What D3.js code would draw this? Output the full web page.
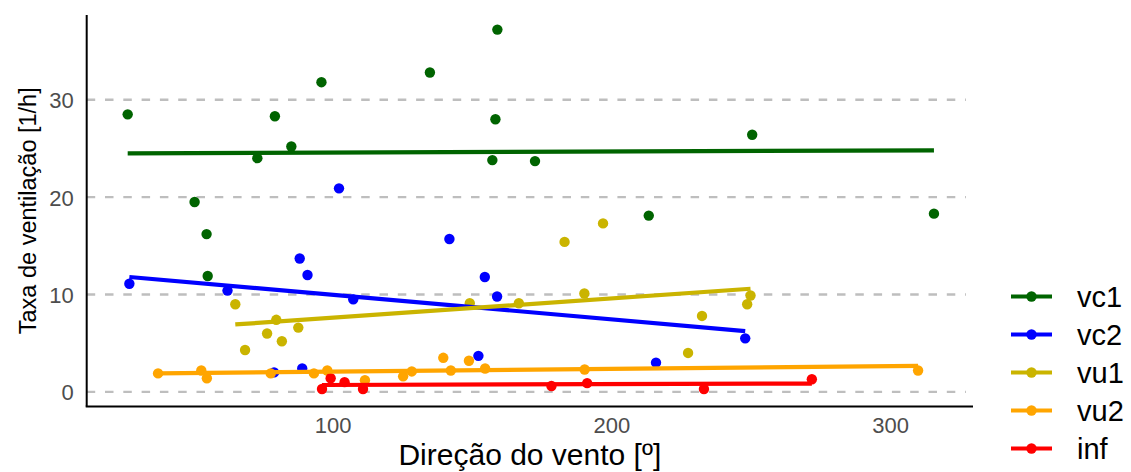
<!DOCTYPE html>
<html><head><meta charset="utf-8">
<script src="https://cdn.jsdelivr.net/npm/d3@7"></script>
<style>
html,body{margin:0;padding:0;background:#fff;}
text{font-family:"Liberation Sans",Arial,Helvetica,sans-serif;}
</style></head>
<body>
<svg id="chart" width="1131" height="472"></svg>
<script>
// ---- data ----
const seriesNames = ["vc1", "vc2", "vu1", "vu2", "inf"];
const seriesColors = ["#006400", "#0000FF", "#CAB400", "#FFA500", "#FF0000"];

const vc1X = [26.5, 50.5, 54.8, 55.2, 73.0, 79.3, 85.2, 96.0, 134.9, 157.3, 158.4, 159.1, 172.6, 213.4, 250.5, 315.7];
const vc1Y = [28.5, 19.5, 16.2, 11.9, 24.0, 28.3, 25.2, 31.8, 32.8, 23.8, 28.0, 37.2, 23.7, 18.1, 26.4, 18.3];

const vc2X = [27.1, 62.3, 79.0, 88.2, 89.1, 91.0, 102.3, 107.4, 141.9, 152.3, 154.6, 159.0, 216.0, 248.0];
const vc2Y = [11.1, 10.4, 2.0, 13.7, 2.4, 12.0, 20.9, 9.5, 15.7, 3.7, 11.8, 9.8, 3.0, 5.5];

const vu1X = [65.1, 68.6, 76.5, 79.8, 81.8, 87.7, 149.2, 166.8, 183.2, 190.3, 197.0, 227.5, 232.5, 248.7, 249.9];
const vu1Y = [9.0, 4.3, 6.0, 7.4, 5.2, 6.6, 9.1, 9.1, 15.4, 10.1, 17.3, 4.0, 7.8, 9.0, 9.9];

const vu2X = [37.4, 52.9, 54.9, 77.8, 93.3, 98.1, 111.6, 125.3, 128.4, 139.7, 142.4, 148.9, 154.7, 190.4, 310.0];
const vu2Y = [1.9, 2.2, 1.4, 1.9, 1.9, 2.2, 1.2, 1.6, 2.1, 3.5, 2.2, 3.2, 2.4, 2.3, 2.2];

const infX = [96.2, 99.3, 104.3, 110.9, 178.5, 191.3, 233.2, 271.9];
const infY = [0.3, 1.4, 1.0, 0.3, 0.6, 0.9, 0.3, 1.3];

const xTicks = [100, 200, 300];
const yTicks = [0, 10, 20, 30];
const xTitle = "Direção do vento [º]";
const yTitle = "Taxa de ventilação [1/h]";

const seriesX = [vc1X, vc2X, vu1X, vu2X, infX];
const seriesY = [vc1Y, vc2Y, vu1Y, vu2Y, infY];
const series = seriesNames.map((name, i) => ({
  name, color: seriesColors[i],
  pts: seriesX[i].map((x, j) => ({x, y: seriesY[i][j]}))
}));

// ---- layout ----
const pL = 86.7, pR = 973, pT = 15, pB = 406.5;
const x = d3.scaleLinear().domain([11.8, 329.7]).range([pL, pR]);
const y = d3.scaleLinear().domain([-1.5, 38.7]).range([pB, pT]);

const svg = d3.select("#chart");

// gridlines
svg.append("g").selectAll("line").data(yTicks).join("line")
  .attr("x1", pL).attr("x2", 966)
  .attr("y1", d => y(d)).attr("y2", d => y(d))
  .attr("stroke", "#BEBEBE").attr("stroke-width", 2.4)
  .attr("stroke-dasharray", "8.5,9.8");

// least-squares fit
function fit(pts) {
  const mx = d3.mean(pts, p => p.x), my = d3.mean(pts, p => p.y);
  let sxy = 0, sxx = 0;
  pts.forEach(p => { sxy += (p.x - mx) * (p.y - my); sxx += (p.x - mx) ** 2; });
  const b = sxy / sxx, a = my - b * mx;
  const [x0, x1] = d3.extent(pts, p => p.x);
  return [{x: x0, y: a + b * x0}, {x: x1, y: a + b * x1}];
}

// points
series.forEach(s => {
  svg.append("g").selectAll("circle").data(s.pts).join("circle")
    .attr("cx", d => x(d.x)).attr("cy", d => y(d.y)).attr("r", 5.2)
    .attr("fill", s.color);
});
// regression lines
const line = d3.line().x(d => x(d.x)).y(d => y(d.y));
series.forEach(s => {
  svg.append("path").attr("d", line(fit(s.pts)))
    .attr("fill", "none").attr("stroke", s.color).attr("stroke-width", 4.2);
});

// axes lines
svg.append("line").attr("x1", pL).attr("x2", pL).attr("y1", pT).attr("y2", pB)
  .attr("stroke", "#000").attr("stroke-width", 2);
svg.append("line").attr("x1", pL - 1).attr("x2", pR).attr("y1", pB).attr("y2", pB)
  .attr("stroke", "#000").attr("stroke-width", 2);

// tick labels
const xAxis = d3.axisBottom(x).tickValues(xTicks).tickSize(0).tickPadding(0);
const gx = svg.append("g").attr("transform", `translate(0,${pB})`).call(xAxis);
gx.select(".domain").remove();
gx.selectAll("text").attr("y", 26).attr("dy", 0)
  .attr("font-size", 22).attr("fill", "#4D4D4D")
  .attr("font-family", "Liberation Sans, Arial, sans-serif");

const yAxis = d3.axisLeft(y).tickValues(yTicks).tickSize(0).tickPadding(0);
const gy = svg.append("g").attr("transform", `translate(${pL - 13},0)`).call(yAxis);
gy.select(".domain").remove();
gy.selectAll("text").attr("x", 0).attr("dy", "0.36em")
  .attr("font-size", 22).attr("fill", "#4D4D4D")
  .attr("font-family", "Liberation Sans, Arial, sans-serif");

// axis titles
svg.append("text").attr("x", (pL + pR) / 2).attr("y", 465)
  .attr("text-anchor", "middle").attr("font-size", 30).attr("fill", "#000")
  .text(xTitle);
svg.append("text").attr("transform", `translate(36,${(pT + pB) / 2}) rotate(-90)`)
  .attr("text-anchor", "middle").attr("font-size", 23.5).attr("fill", "#000")
  .text(yTitle);

// legend
const legY0 = 296.5, legStep = 38;
const leg = svg.append("g");
series.forEach((s, i) => {
  const g = leg.append("g").attr("transform", `translate(0,${legY0 + i * legStep})`);
  g.append("line").attr("x1", 1011).attr("x2", 1052).attr("y1", 0).attr("y2", 0)
    .attr("stroke", s.color).attr("stroke-width", 4.2);
  g.append("circle").attr("cx", 1031.5).attr("cy", 0).attr("r", 5.2).attr("fill", s.color);
  g.append("text").attr("x", 1077).attr("y", 0).attr("dy", "0.36em")
    .attr("font-size", 29).attr("fill", "#000").text(s.name);
});
</script>
</body></html>
